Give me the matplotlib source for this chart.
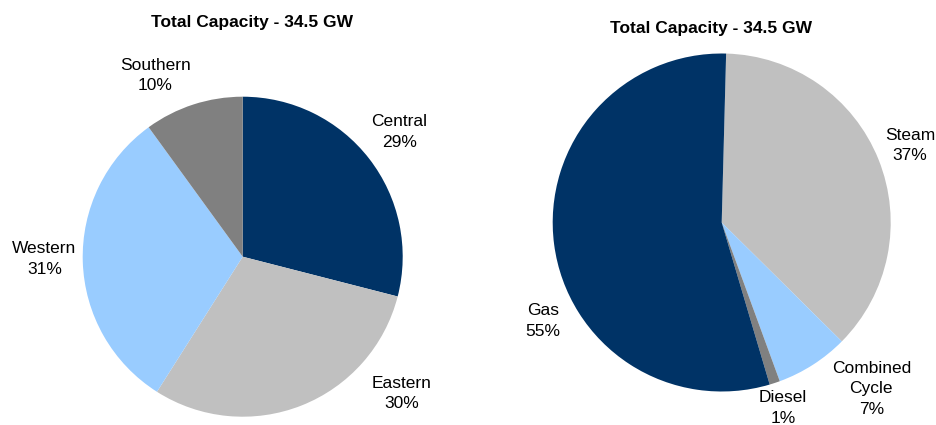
import matplotlib
matplotlib.use("Agg")
import matplotlib.pyplot as plt

plt.rcParams['font.family'] = ['Liberation Sans', 'DejaVu Sans']

# Capacity by region (%)
region_names = ["Central", "Eastern", "Western", "Southern"]
region_share = [29, 30, 31, 10]

# Capacity by technology (%)
tech_names = ["Steam", "Combined\nCycle", "Diesel", "Gas"]
tech_share = [37, 7, 1, 55]

title_text = "Total Capacity - 34.5 GW"

NAVY = "#003366"
LIGHT_GRAY = "#C0C0C0"
LIGHT_BLUE = "#99CCFF"
MID_GRAY = "#808080"

region_colors = [NAVY, LIGHT_GRAY, LIGHT_BLUE, MID_GRAY]
tech_colors = [LIGHT_GRAY, LIGHT_BLUE, MID_GRAY, NAVY]

# label anchor points, in units of the pie radius
region_label_pos = [(0.98, 0.78), (0.996, -0.856), (-1.24, -0.014), (-0.545, 1.134)]
tech_label_pos = [(1.114, 0.456), (0.885, -0.985), (0.363, -1.098), (-1.057, -0.583)]

W, H = 936, 425
fig = plt.figure(figsize=(W / 100, H / 100), dpi=100)


def axes_for(cx, cy, r):
    return fig.add_axes([(cx - r) / W, (H - cy - r) / H, 2 * r / W, 2 * r / H])


def draw_pie(ax, values, names, colors, start, label_pos):
    ax.pie(values, colors=colors, startangle=start, counterclock=False,
           radius=1.0, wedgeprops=dict(linewidth=0))
    for name, v, (x, y) in zip(names, values, label_pos):
        ax.text(x, y, f"{name}\n{v}%", ha="center", va="center",
                fontsize=12.5, linespacing=1.45, color="#000000")
    ax.set_xlim(-1, 1)
    ax.set_ylim(-1, 1)
    ax.set_aspect("equal")
    ax.axis("off")


ax1 = axes_for(242.7, 256.7, 160)
draw_pie(ax1, region_share, region_names, region_colors, 90, region_label_pos)

ax2 = axes_for(721.7, 222.5, 169)
draw_pie(ax2, tech_share, tech_names, tech_colors, 88.5, tech_label_pos)

fig.text(251.7 / W, 1 - 22 / H, title_text, ha="center", va="center",
         fontsize=12.5, fontweight="bold")
fig.text(710.8 / W, 1 - 28 / H, title_text, ha="center", va="center",
         fontsize=12.5, fontweight="bold")

fig.savefig("out.png", dpi=100, facecolor="white")
